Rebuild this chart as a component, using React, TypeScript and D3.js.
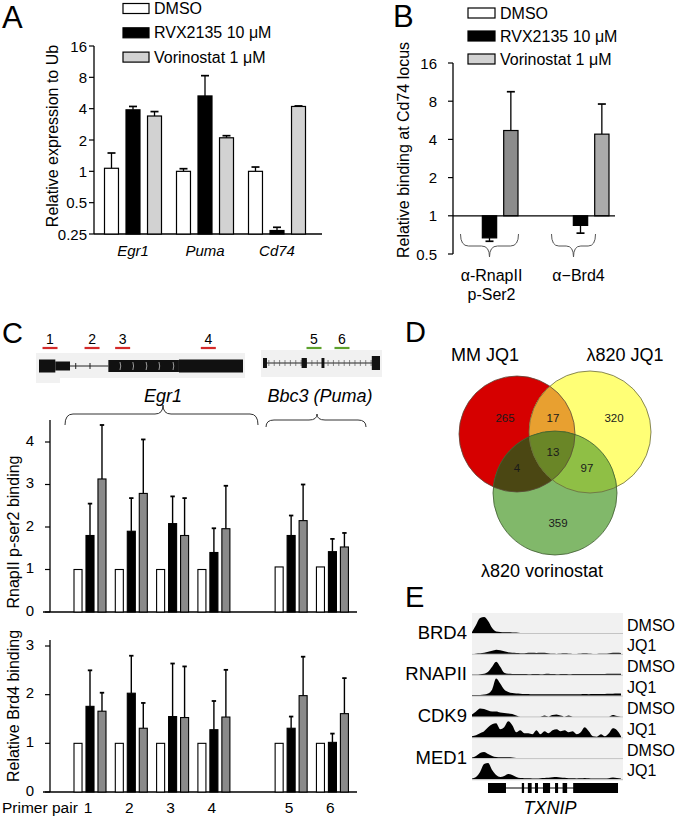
import React from 'react';
import * as d3 from 'd3';

const FONT = '"Liberation Sans", Arial, Helvetica, sans-serif';

// ---------- Panel A data ----------
const genesA = ['Egr1', 'Puma', 'Cd74'];
const treatments = ['DMSO', 'RVX2135 10 μM', 'Vorinostat 1 μM'];
const exprDMSO = [1.07, 1.0, 1.0];
const exprDMSOErr = [1.5, 1.06, 1.1];
const exprRVX = [3.9, 5.3, 0.27];
const exprRVXErr = [4.2, 8.3, 0.29];
const exprVor = [3.4, 2.1, 4.2];
const exprVorErr = [3.75, 2.2, 4.25];
const ticksA = [0.25, 0.5, 1, 2, 4, 8, 16];

// ---------- Panel B data ----------
const antibodiesB = ['α-RnapII|p-Ser2', 'α−Brd4'];
const bindDMSO = [1, 1];
const bindRVX = [0.67, 0.84];
const bindRVXErr = [0.63, 0.73];
const bindVor = [4.7, 4.4];
const bindVorErr = [9.5, 7.6];
const ticksB = [0.5, 1, 2, 4, 8, 16];

// ---------- Panel C data ----------
const primers = ['1', '2', '3', '4', '5', '6'];
const polDMSO = [1, 1, 1, 1, 1.06, 1.06];
const polRVX = [1.8, 1.9, 2.08, 1.4, 1.8, 1.42];
const polRVXErr = [2.55, 2.68, 2.72, 1.97, 2.27, 1.72];
const polVor = [3.13, 2.79, 1.8, 1.96, 2.15, 1.53];
const polVorErr = [4.4, 4.06, 2.68, 2.97, 3.0, 1.86];
const brdDMSO = [1, 1, 1, 1, 1, 1];
const brdRVX = [1.76, 2.03, 1.55, 1.28, 1.31, 1.02];
const brdRVXErr = [2.5, 2.8, 2.64, 1.87, 1.55, 1.2];
const brdVor = [1.66, 1.31, 1.53, 1.54, 1.98, 1.61];
const brdVorErr = [2.04, 1.83, 2.58, 2.51, 2.78, 2.34];
const ticksCtop = [0, 1, 2, 3, 4];
const ticksCbot = [0, 1, 2, 3];
const geneNamesC = ['Egr1', 'Bbc3 (Puma)'];
// gene models (relative units 0..100 along each track)
const egr1Exons = [[0, 8], [8, 15.2], [34, 68.6], [68.6, 100]];
const egr1ExonKind = ['big', 'small', 'mid', 'big'];
const egr1Marks = [39.7, 46, 52.5, 58.8, 65.7];
const egr1IntronTicks = [18, 25];
const egr1Primers = [5.4, 26, 41, 83];
const bbc3Exons = [[0, 3.4], [33, 37.5], [50, 52.5], [93, 100]];
const bbc3Primers = [43.6, 67.5];

// ---------- Panel D data ----------
const vennSets = ['MM JQ1', 'λ820 JQ1', 'λ820 vorinostat'];
const vennOnlyMM = 265;
const vennMM_L = 17;
const vennOnlyL = 320;
const vennAll = 13;
const vennMM_V = 4;
const vennL_V = 97;
const vennOnlyV = 359;

// ---------- Panel E data ----------
const proteinsE = ['BRD4', 'RNAPII', 'CDK9', 'MED1'];
const conditionsE = ['DMSO', 'JQ1'];
const brd4DMSO = [1, 8, 15, 16, 12, 5, 1.5, 1, 0.8, 0.8, 0.6, 0.5, 0, 0, 0, 0, 0, 0, 0, 0, 0, 0, 0, 0, 0, 0, 0, 0, 0, 0, 0, 0, 0, 0, 0, 0, 0, 0];
const brd4JQ1 = [0, 0.3, 0.5, 1, 2, 3, 4, 3.5, 2.5, 1.5, 1, 0.8, 0.6, 0.5, 1, 1, 0.8, 1, 1, 0.6, 0.3, 0.2, 0.3, 0.6, 0.3, 0.2, 0.2, 0.3, 0.6, 0.3, 0.2, 0.2, 0.3, 0.3, 0.6, 1, 1.2, 0.8];
const rnapDMSO = [0.3, 0.3, 0.5, 1, 3, 8, 13, 8, 2, 1, 0.8, 0.6, 0.8, 0.6, 0.5, 0.8, 0.6, 0.5, 0.8, 1, 0.6, 0.5, 0.8, 0.6, 0.5, 0.8, 0.6, 0.6, 0.8, 0.6, 0.6, 0.8, 0.8, 0.8, 1, 1, 1, 1];
const rnapJQ1 = [0.5, 0.5, 0.6, 1, 2, 6, 17, 12, 6, 3.5, 2.5, 2, 1.8, 1.5, 1.5, 1.2, 1.3, 1.2, 1.3, 1.2, 1.3, 1.3, 1.2, 1.3, 1.3, 1.4, 1.3, 1.4, 1.5, 1.4, 1.5, 1.5, 1.6, 1.6, 1.8, 1.8, 2, 2];
const cdk9DMSO = [2, 5, 8, 7.5, 6, 5, 5, 4, 3.5, 3, 2.5, 1, 0, 0, 0, 0, 0, 0, 1, 0, 1.5, 2, 1, 0, 1, 0, 0, 0, 0, 0, 0, 0, 0, 0, 0, 1.5, 0.5, 0];
const cdk9JQ1 = [1, 2, 4, 6, 10, 13, 14, 8, 10, 16, 12, 5, 7, 4, 4, 3, 7, 3, 6, 4, 7, 8, 6, 7, 5, 6, 3, 5, 10, 6, 1, 0.5, 3, 1, 4, 9, 7, 1];
const med1DMSO = [0.5, 2, 5, 6, 4, 2, 1, 0.8, 0.8, 0.8, 0.5, 0, 0, 0, 0, 0, 0, 0, 0, 0, 0, 0, 0, 0, 0, 0, 0, 0, 0, 0, 0, 0, 0, 0, 0, 0, 0, 0];
const med1JQ1 = [0.5, 2, 7, 15, 16, 9, 4, 2, 3, 5, 4, 2, 1, 0.8, 0.6, 0.5, 0.5, 0.8, 1, 1.2, 1.8, 2, 1.5, 1.2, 0.8, 0.6, 0.5, 0.6, 1, 0.6, 0.4, 0.4, 0.4, 0.5, 0.8, 1.5, 1, 0.5];
const txnipExons = [[10.6, 22.5], [33, 34.5], [37, 39.5], [41.7, 43.7], [47, 51.7], [55, 57], [60, 63], [67, 96.7]];

// ---------- helpers ----------
const ErrBar = ({ x, y0, y1, cap, w = 1.3 }: any) => (
  <g stroke="#000" strokeWidth={w}>
    <line x1={x} x2={x} y1={y0} y2={y1} />
    <line x1={x - cap} x2={x + cap} y1={y1} y2={y1} strokeWidth={w + 0.4} />
  </g>
);

function bracePath(x1: number, x2: number, xm: number, yEnd: number, yMid: number, yTip: number) {
  const r = Math.min(8, (xm - x1) / 3, (x2 - xm) / 3);
  return `M${x1},${yEnd} Q${x1},${yMid} ${x1 + r},${yMid} L${xm - r},${yMid} Q${xm},${yMid} ${xm},${yTip} Q${xm},${yMid} ${xm + r},${yMid} L${x2 - r},${yMid} Q${x2},${yMid} ${x2},${yEnd}`;
}

const fillsA = ['#ffffff', '#000000', '#d2d2d2'];
const fillsC = ['#ffffff', '#000000', '#8a8a8a'];
const vorFillB = ['#8c8c8c', '#ababab'];

function PanelA() {
  const yA = d3.scaleLog().base(2).domain([0.25, 16]).range([234, 46]);
  const xA = d3.scaleBand().domain(genesA).range([97, 313]);
  const sub = d3.scaleBand<number>().domain([0, 1, 2]).range([-28.5, 28.5]).paddingInner(0.35);
  const series = [
    { v: exprDMSO, e: exprDMSOErr },
    { v: exprRVX, e: exprRVXErr },
    { v: exprVor, e: exprVorErr },
  ];
  const axX = 94;
  return (
    <g>
      <text x={2} y={28} fontSize={31}>A</text>
      {treatments.map((t, i) => (
        <g key={t}>
          <rect x={123} y={3.5 + i * 24.3} width={26} height={10} fill={fillsA[i]} stroke="#000" strokeWidth={1.2} />
          <text x={154} y={8.5 + i * 24.3} fontSize={16} dominantBaseline="central">{t}</text>
        </g>
      ))}
      <line x1={axX} x2={axX} y1={yA(16)} y2={yA(0.25)} stroke="#000" strokeWidth={1.3} />
      <line x1={axX} x2={322} y1={yA(0.25)} y2={yA(0.25)} stroke="#000" strokeWidth={1.3} />
      {ticksA.map((t) => (
        <g key={t}>
          <line x1={axX - 5} x2={axX} y1={yA(t)} y2={yA(t)} stroke="#000" strokeWidth={1.2} />
          <text x={axX - 7} y={yA(t)} fontSize={15} textAnchor="end" dominantBaseline="central">{t}</text>
        </g>
      ))}
      <text transform={`translate(52,136) rotate(-90)`} fontSize={16} textAnchor="middle" dominantBaseline="central">Relative expression to Ub</text>
      {genesA.map((g, gi) => {
        const c = (xA(g) as number) + xA.bandwidth() / 2;
        return (
          <g key={g}>
            {series.map((s, si) => {
              const x = c + (sub(si) as number);
              const bw = sub.bandwidth();
              const top = yA(s.v[gi]);
              return (
                <g key={si}>
                  <ErrBar x={x + bw / 2} y0={top} y1={yA(s.e[gi])} cap={4} />
                  <rect x={x} y={top} width={bw} height={yA(0.25) - top} fill={fillsA[si]} stroke="#000" strokeWidth={1.2} />
                </g>
              );
            })}
            <text x={c} y={256} fontSize={15} fontStyle="italic" textAnchor="middle">{g}</text>
          </g>
        );
      })}
    </g>
  );
}

function PanelB() {
  const yB = d3.scaleLog().base(2).domain([0.5, 16]).range([254, 63]);
  const xB = d3.scaleBand().domain(antibodiesB).range([444, 626]);
  const sub = d3.scaleBand<number>().domain([0, 1, 2]).range([-28.5, 28.5]).paddingInner(0.33);
  const series = [
    { v: bindDMSO, e: bindDMSO },
    { v: bindRVX, e: bindRVXErr },
    { v: bindVor, e: bindVorErr },
  ];
  const axX = 453;
  const base = yB(1);
  const braceHalf = [29, 22];
  const braceShift = [0, -7];
  return (
    <g>
      <text x={393} y={27} fontSize={31}>B</text>
      {treatments.map((t, i) => (
        <g key={t}>
          <rect x={468} y={8 + i * 23} width={27} height={10} fill={fillsA[i]} stroke="#000" strokeWidth={1.2} />
          <text x={500} y={13 + i * 23} fontSize={16} dominantBaseline="central">{t}</text>
        </g>
      ))}
      <line x1={axX} x2={axX} y1={yB(16)} y2={yB(0.5)} stroke="#000" strokeWidth={1.3} />
      {ticksB.map((t) => (
        <g key={t}>
          <line x1={axX - 5} x2={axX} y1={yB(t)} y2={yB(t)} stroke="#000" strokeWidth={1.2} />
          <text x={axX - 16} y={yB(t)} fontSize={15} textAnchor="end" dominantBaseline="central">{t}</text>
        </g>
      ))}
      <text transform={`translate(403,150) rotate(-90)`} fontSize={16} textAnchor="middle" dominantBaseline="central">Relative binding at Cd74 locus</text>
      {antibodiesB.map((a, ai) => {
        const c = (xB(a) as number) + xB.bandwidth() / 2;
        const lines = a.split('|');
        const bc = c + braceShift[ai];
        return (
          <g key={a}>
            {series.map((s, si) => {
              if (s.v[ai] === 1) return null;
              const x = c + (sub(si) as number);
              const bw = sub.bandwidth();
              const yv = yB(s.v[ai]);
              const fill = si === 2 ? vorFillB[ai] : fillsA[si];
              return (
                <g key={si}>
                  <ErrBar x={x + bw / 2} y0={yv} y1={yB(s.e[ai])} cap={4} />
                  <rect x={x} y={Math.min(yv, base)} width={bw} height={Math.abs(base - yv)} fill={fill} stroke="#000" strokeWidth={1.2} />
                </g>
              );
            })}
            <path d={bracePath(bc - braceHalf[ai], bc + braceHalf[ai], bc, 234, 246, 257)} fill="none" stroke="#555" strokeWidth={1} />
            {lines.map((l, li) => (
              <text key={li} x={c + (ai === 0 ? 2 : -2)} y={281 + li * 19} fontSize={16} textAnchor="middle">{l}</text>
            ))}
          </g>
        );
      })}
      <line x1={axX} x2={615} y1={base} y2={base} stroke="#000" strokeWidth={1.3} />
    </g>
  );
}

function PanelC() {
  const xC = d3.scaleLinear().domain([0, 1]).range([90, 131.3]);
  const slot = (i: number) => xC(i + (i >= 4 ? 0.87 : 0));
  const sub = d3.scaleBand<number>().domain([0, 1, 2]).range([-16, 16]).paddingInner(0.33);
  const yT = d3.scaleLinear().domain([0, 4]).range([612, 442]);
  const yBt = d3.scaleLinear().domain([0, 3]).range([792, 646]);
  const axX = 50;
  const charts = [
    { y: yT, ticks: ticksCtop, top: 420, title: 'RnapII p-ser2 binding', tc: 532, s: [{ v: polDMSO, e: null }, { v: polRVX, e: polRVXErr }, { v: polVor, e: polVorErr }] },
    { y: yBt, ticks: ticksCbot, top: 640, title: 'Relative Brd4 binding', tc: 706, s: [{ v: brdDMSO, e: null }, { v: brdRVX, e: brdRVXErr }, { v: brdVor, e: brdVorErr }] },
  ];
  const xEgr = d3.scaleLinear().domain([0, 100]).range([39, 243]);
  const xBbc = d3.scaleLinear().domain([0, 100]).range([263, 380]);
  const exH: any = { big: 13, small: 9, mid: 12 };
  return (
    <g>
      <text x={2} y={343} fontSize={29}>C</text>
      {/* Egr1 track */}
      <rect x={36} y={353} width={209} height={25} fill="#f1f1f1" />
      <rect x={36} y={378} width={24} height={5} fill="#f1f1f1" />
      <line x1={xEgr(15.2)} x2={xEgr(34)} y1={366} y2={366} stroke="#222" strokeWidth={1} />
      {egr1IntronTicks.map((t) => (
        <line key={t} x1={xEgr(t)} x2={xEgr(t)} y1={363} y2={369} stroke="#222" strokeWidth={1} />
      ))}
      {egr1Exons.map((e, i) => (
        <rect key={i} x={xEgr(e[0])} y={366 - exH[egr1ExonKind[i]] / 2} width={xEgr(e[1]) - xEgr(e[0])} height={exH[egr1ExonKind[i]]} fill="#111" />
      ))}
      {egr1Marks.map((m) => (
        <path key={m} d={`M${xEgr(m)},362 Q${xEgr(m) + 1.5},366 ${xEgr(m)},370`} fill="none" stroke="#bbb" strokeWidth={0.8} />
      ))}
      {egr1Primers.map((p, i) => (
        <g key={i}>
          <line x1={xEgr(p) - 7.5} x2={xEgr(p) + 7.5} y1={348} y2={348} stroke="#d42a2a" strokeWidth={2.2} />
          <text x={xEgr(p)} y={344} fontSize={14} textAnchor="middle">{primers[i]}</text>
        </g>
      ))}
      {/* Bbc3 track */}
      <rect x={261} y={350} width={121} height={27} fill="#f1f1f1" />
      <line x1={xBbc(0)} x2={xBbc(100)} y1={363} y2={363} stroke="#222" strokeWidth={1} />
      {d3.range(5, 93, 4.6).map((t) => (
        <line key={t} x1={xBbc(t)} x2={xBbc(t)} y1={360} y2={366} stroke="#555" strokeWidth={0.7} />
      ))}
      {bbc3Exons.map((e, i) => (
        <rect key={i} x={xBbc(e[0])} y={i === 3 ? 356 : 358} width={xBbc(e[1]) - xBbc(e[0])} height={i === 3 ? 14 : 10} fill="#111" />
      ))}
      {bbc3Primers.map((p, i) => (
        <g key={i}>
          <line x1={xBbc(p) - 7.5} x2={xBbc(p) + 7.5} y1={348} y2={348} stroke="#5ea12e" strokeWidth={2.2} />
          <text x={xBbc(p)} y={344} fontSize={14} textAnchor="middle">{primers[4 + i]}</text>
        </g>
      ))}
      {/* gene labels and braces */}
      <text x={163} y={402} fontSize={18} fontStyle="italic" textAnchor="middle">{geneNamesC[0]}</text>
      <path d={bracePath(65, 258, 163, 425, 414, 405)} fill="none" stroke="#333" strokeWidth={1} />
      <text x={320} y={402} fontSize={18} fontStyle="italic" textAnchor="middle">{geneNamesC[1]}</text>
      <path d={bracePath(266, 366, 317, 427, 420, 414)} fill="none" stroke="#333" strokeWidth={1} />
      {charts.map((ch, ci) => (
        <g key={ci}>
          <line x1={axX} x2={axX} y1={ch.top} y2={ch.y(0)} stroke="#000" strokeWidth={1.3} />
          <line x1={43} x2={357} y1={ch.y(0)} y2={ch.y(0)} stroke="#000" strokeWidth={1.5} />
          {ch.ticks.map((t) => (
            <g key={t}>
              <line x1={axX - 5} x2={axX} y1={ch.y(t)} y2={ch.y(t)} stroke="#000" strokeWidth={1.2} />
              <text x={34} y={ch.y(t) - 2} fontSize={15} textAnchor="end" dominantBaseline="central">{t}</text>
            </g>
          ))}
          <text transform={`translate(13,${ch.tc}) rotate(-90)`} fontSize={16} textAnchor="middle" dominantBaseline="central">{ch.title}</text>
          {primers.map((p, pi) => (
            <g key={p}>
              {ch.s.map((s, si) => {
                const bw = sub.bandwidth();
                const bx = slot(pi) + (sub(si) as number);
                const top = ch.y(s.v[pi]);
                return (
                  <g key={si}>
                    {s.e && <ErrBar x={bx + bw / 2} y0={top} y1={ch.y(s.e[pi])} cap={2.2} w={1.4} />}
                    <rect x={bx} y={top} width={bw} height={ch.y(0) - top} fill={fillsC[si]} stroke="#000" strokeWidth={1.1} />
                  </g>
                );
              })}
            </g>
          ))}
        </g>
      ))}
      <text x={2} y={813} fontSize={15.5}>Primer pair</text>
      {primers.map((p, pi) => (
        <text key={p} x={slot(pi) - 2} y={813} fontSize={15.5} textAnchor="middle">{p}</text>
      ))}
    </g>
  );
}

function PanelD() {
  const red = { cx: 517, cy: 434, r: 58 };
  const yel = { cx: 590, cy: 432, r: 61 };
  const grn = { cx: 555, cy: 493, r: 62 };
  const C = (c: any, props: any) => <circle cx={c.cx} cy={c.cy} r={c.r} {...props} />;
  const nums = [
    { v: vennOnlyMM, x: red.cx - 12, y: red.cy - 16 },
    { v: vennMM_L, x: (red.cx + yel.cx) / 2 - 0.5, y: red.cy - 16 },
    { v: vennOnlyL, x: yel.cx + 24, y: red.cy - 16 },
    { v: vennAll, x: (red.cx + yel.cx) / 2 - 0.5, y: red.cy + 18 },
    { v: vennMM_V, x: red.cx, y: red.cy + 34 },
    { v: vennL_V, x: yel.cx - 3, y: red.cy + 34 },
    { v: vennOnlyV, x: grn.cx + 3, y: grn.cy + 30 },
  ];
  return (
    <g>
      <text x={405} y={342} fontSize={29}>D</text>
      <defs>
        <clipPath id="clipRed">{C(red, {})}</clipPath>
        <clipPath id="clipYel">{C(yel, {})}</clipPath>
      </defs>
      {C(red, { fill: '#d60000' })}
      {C(yel, { fill: '#ffff76' })}
      <g clipPath="url(#clipRed)">{C(yel, { fill: '#e8a030' })}</g>
      {C(grn, { fill: '#81b86a' })}
      <g clipPath="url(#clipRed)">{C(grn, { fill: '#4b4713' })}</g>
      <g clipPath="url(#clipYel)">{C(grn, { fill: '#8fbf45' })}</g>
      <g clipPath="url(#clipRed)"><g clipPath="url(#clipYel)">{C(grn, { fill: '#6a8627' })}</g></g>
      {C(red, { fill: 'none', stroke: '#5a4a3a', strokeWidth: 0.8 })}
      {C(yel, { fill: 'none', stroke: '#6a6a40', strokeWidth: 0.8 })}
      {C(grn, { fill: 'none', stroke: '#3f5a30', strokeWidth: 0.8 })}
      {nums.map((n, i) => (
        <text key={i} x={n.x} y={n.y} fontSize={11.5} textAnchor="middle" dominantBaseline="central" fill="#1a1a1a">{n.v}</text>
      ))}
      <text x={485} y={361} fontSize={18} textAnchor="middle">{vennSets[0]}</text>
      <text x={625} y={361} fontSize={18} textAnchor="middle">{vennSets[1]}</text>
      <text x={542} y={577} fontSize={18} textAnchor="middle">{vennSets[2]}</text>
    </g>
  );
}

function PanelE() {
  const tracks = [brd4DMSO, brd4JQ1, rnapDMSO, rnapJQ1, cdk9DMSO, cdk9JQ1, med1DMSO, med1JQ1];
  const xE = d3.scaleLinear().domain([0, brd4DMSO.length - 1]).range([472, 621]);
  const hE = d3.scaleLinear().domain([0, 20]).range([0, 20]);
  const baseY = (k: number) => 633 + k * 20.85;
  const xG = d3.scaleLinear().domain([0, 100]).range([472, 623]);
  return (
    <g>
      <text x={405} y={607} fontSize={29}>E</text>
      <rect x={472} y={613} width={151} height={168} fill="#f1f1f1" />
      {tracks.map((t, k) => {
        const b = baseY(k);
        const area = d3.area<number>().x((_, i) => xE(i)).y0(b).y1((d) => b - hE(d)).curve(d3.curveMonotoneX);
        return (
          <g key={k}>
            <line x1={472} x2={623} y1={b + 0.5} y2={b + 0.5} stroke="#c4c4c4" strokeWidth={1} />
            <path d={area(t) || ''} fill="#000" />
            <text x={627} y={b - 8} fontSize={16} dominantBaseline="central">{conditionsE[k % 2]}</text>
          </g>
        );
      })}
      {proteinsE.map((p, i) => (
        <text key={p} x={467} y={baseY(i * 2) - 1} fontSize={18.5} textAnchor="end" dominantBaseline="central">{p}</text>
      ))}
      <line x1={xG(txnipExons[0][0])} x2={xG(txnipExons[txnipExons.length - 1][1])} y1={788} y2={788} stroke="#000" strokeWidth={1} />
      {txnipExons.map((e, i) => (
        <rect key={i} x={xG(e[0])} y={783} width={xG(e[1]) - xG(e[0])} height={10} fill="#000" />
      ))}
      <text x={550} y={814} fontSize={18} fontStyle="italic" textAnchor="middle">TXNIP</text>
    </g>
  );
}

export default function App() {
  return (
    <svg width={676} height={818} style={{ position: 'absolute', left: 0, top: 0, background: '#fff' }} fontFamily={FONT}>
      <rect width={676} height={818} fill="#fff" />
      <PanelA />
      <PanelB />
      <PanelC />
      <PanelD />
      <PanelE />
    </svg>
  );
}
